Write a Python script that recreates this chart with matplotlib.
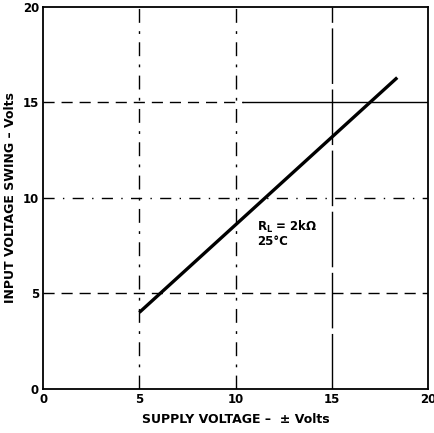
import matplotlib.pyplot as plt
import numpy as np

# supply voltage (+/- V) vs input voltage swing (V)
supply = [5.0, 18.4]
swing = [4.0, 16.3]

ticks = [0, 5, 10, 15, 20]

fig = plt.figure(figsize=[4.35, 4.33], dpi=100)
ax = fig.add_axes([0.099, 0.102, 0.885, 0.882])

ax.set_xlim(0, 20)
ax.set_ylim(0, 20)

# grid, drawn dashed like the datasheet
dash = (0, (10, 6, 2, 6))
for v in [5, 10]:
    ax.axvline(v, color='black', lw=1.0, ls=dash)
ax.axvline(15, color='black', lw=1.0, ls=(0, (40, 4)))
ax.axhline(15, xmax=0.52, color='black', lw=1.0, ls=(0, (8, 5)))
ax.axhline(15, xmin=0.52, color='black', lw=1.0)
ax.axhline(10, color='black', lw=1.0, ls=(0, (8, 6, 1, 6)))
ax.axhline(5, color='black', lw=1.0, ls=(0, (8, 5)))

ax.plot(supply, swing, color='black', lw=2.4, solid_capstyle='butt')

ax.text(11.1, 8.9, 'R$_\\mathregular{L}$ = 2k\u03a9\n25\u00b0C', fontsize=8.5,
        fontweight='bold', va='top', ha='left', linespacing=1.0)

ax.set_xticks(ticks)
ax.set_yticks(ticks)
ax.tick_params(length=0, labelsize=8.5, pad=3)
for lab in ax.get_xticklabels() + ax.get_yticklabels():
    lab.set_fontweight('bold')

ax.set_xlabel('SUPPLY VOLTAGE \u2013  \u00b1 Volts', fontsize=9, fontweight='bold', labelpad=5)
ax.set_ylabel('INPUT VOLTAGE SWING \u2013 Volts', fontsize=9, fontweight='bold', labelpad=4)

for s in ax.spines.values():
    s.set_linewidth(1.3)

fig.savefig('out.png', dpi=100)
